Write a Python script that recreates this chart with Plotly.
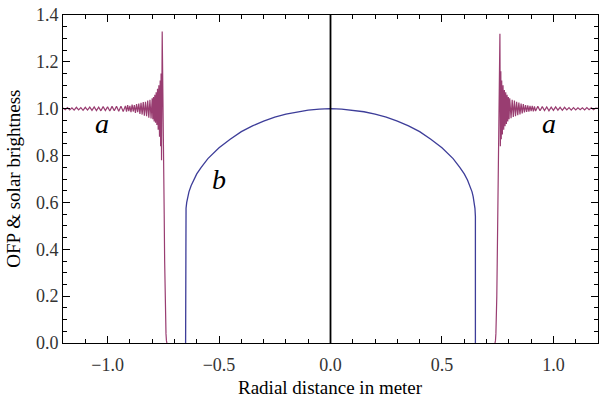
import plotly.graph_objects as go

# ---- curve a (occultation Fresnel profile), left edge ----
a_left_x = [
    -1.200, -1.190, -1.180, -1.170, -1.160, -1.150, -1.140, -1.130, -1.120, -1.110,
    -1.100, -1.090, -1.080, -1.070, -1.060, -1.050, -1.040, -1.030, -1.020, -1.010,
    -1.000, -0.990, -0.980, -0.970, -0.960, -0.950, -0.940, -0.930,
    -0.920, -0.915, -0.910, -0.905, -0.900, -0.895, -0.890, -0.885, -0.880, -0.875,
    -0.870, -0.865, -0.860, -0.855, -0.850, -0.845, -0.840, -0.835, -0.830, -0.825,
    -0.820, -0.815, -0.810, -0.805,
    -0.800, -0.797, -0.794, -0.791, -0.788, -0.785, -0.782, -0.779, -0.776, -0.773,
    -0.770, -0.767, -0.764, -0.762, -0.760, -0.758, -0.755,
    -0.753, -0.749, -0.746, -0.744, -0.742, -0.740, -0.738, -0.736, -0.734,
]
a_left_y = [
    1.003, 0.996, 1.005, 0.995, 1.004, 0.994, 1.006, 0.995, 1.005, 0.993,
    1.006, 0.994, 1.007, 0.993, 1.008, 0.992, 1.007, 0.991, 1.009, 0.992,
    1.008, 0.990, 1.010, 0.991, 1.010, 0.989, 1.011, 0.988,
    1.012, 0.988, 1.015, 0.990, 1.012, 0.985, 1.018, 0.988, 1.015, 0.982,
    1.020, 0.985, 1.022, 0.978, 1.025, 0.975, 1.028, 0.970, 1.030, 0.968,
    1.035, 0.962, 1.038, 0.958,
    1.045, 0.955, 1.050, 0.945, 1.060, 0.940, 1.070, 0.930, 1.085, 0.910,
    1.100, 0.880, 1.120, 0.840, 1.150, 0.780, 1.330,
    1.200, 0.850, 0.550, 0.350, 0.200, 0.100, 0.040, 0.010, 0.000,
]

# ---- curve a, right edge ----
a_right_x = [
    0.738, 0.740, 0.742, 0.744, 0.746, 0.748, 0.750, 0.753, 0.757, 0.760,
    0.762, 0.764, 0.766, 0.768, 0.771, 0.774, 0.777, 0.780, 0.783, 0.786,
    0.789, 0.792, 0.795, 0.798, 0.801, 0.804,
    0.810, 0.815, 0.820, 0.825, 0.830, 0.835, 0.840, 0.845, 0.850, 0.855,
    0.860, 0.865, 0.870, 0.875, 0.880, 0.885, 0.890, 0.895, 0.900, 0.905,
    0.910, 0.915, 0.920,
    0.930, 0.940, 0.950, 0.960, 0.970, 0.980, 0.990, 1.000, 1.010, 1.020,
    1.030, 1.040, 1.050, 1.060, 1.070, 1.080, 1.090, 1.100, 1.110, 1.120,
    1.130, 1.140, 1.150, 1.160, 1.170, 1.180, 1.190, 1.200,
]
a_right_y = [
    0.000, 0.010, 0.040, 0.100, 0.200, 0.350, 0.550, 0.850, 1.200, 1.320,
    0.840, 1.160, 0.870, 1.120, 0.890, 1.100, 0.910, 1.080, 0.925, 1.070,
    0.935, 1.060, 0.945, 1.050, 0.955, 1.045,
    0.960, 1.038, 0.965, 1.035, 0.968, 1.030, 0.972, 1.026, 0.976, 1.022,
    0.980, 1.020, 0.984, 1.016, 0.986, 1.014, 0.988, 1.012, 0.990, 1.012,
    0.989, 1.010, 0.990,
    1.010, 0.991, 1.009, 0.992, 1.008, 0.991, 1.007, 0.993, 1.008, 0.994,
    1.006, 0.993, 1.006, 0.995, 1.005, 0.994, 1.005, 0.995, 1.004, 0.996,
    1.004, 0.995, 1.005, 0.996, 1.004, 0.996, 1.003, 1.002,
]

# ---- curve b (limb-darkened solar brightness) ----
b_x = [
    -0.650, -0.650, -0.648, -0.645, -0.640, -0.635, -0.625, -0.615, -0.600, -0.580,
    -0.550, -0.500, -0.450, -0.400, -0.350, -0.300, -0.250, -0.200, -0.150, -0.100,
    -0.050, 0.000,
    0.050, 0.100, 0.150, 0.200, 0.250, 0.300, 0.350, 0.400, 0.450, 0.500,
    0.550, 0.580, 0.600, 0.615, 0.625, 0.635, 0.640, 0.645, 0.648, 0.650, 0.650,
]
b_y = [
    0.000, 0.540, 0.575, 0.600, 0.625, 0.645, 0.672, 0.695, 0.722, 0.750,
    0.787, 0.833, 0.870, 0.902, 0.927, 0.947, 0.964, 0.977, 0.987, 0.994,
    0.998, 1.000,
    0.998, 0.994, 0.987, 0.977, 0.964, 0.947, 0.927, 0.902, 0.870, 0.833,
    0.787, 0.750, 0.722, 0.695, 0.672, 0.645, 0.625, 0.600, 0.575, 0.540, 0.000,
]

center_line_x = [0.0, 0.0]
center_line_y = [0.0, 1.4]

x_ticks = [-1.0, -0.5, 0.0, 0.5, 1.0]
y_ticks = [0.0, 0.2, 0.4, 0.6, 0.8, 1.0, 1.2, 1.4]

# curve labels
label_text = ["a", "b", "a"]
label_x = [-1.025, -0.50, 0.98]
label_y = [0.935, 0.70, 0.935]

SERIF = "Liberation Serif, Times New Roman, serif"
A_COLOR = "#993D71"
B_COLOR = "#3D3D99"

fig = go.Figure()

fig.add_trace(go.Scatter(x=a_left_x, y=a_left_y, mode="lines",
                         line=dict(color=A_COLOR, width=1.2), hoverinfo="skip"))
fig.add_trace(go.Scatter(x=a_right_x, y=a_right_y, mode="lines",
                         line=dict(color=A_COLOR, width=1.2), hoverinfo="skip"))
fig.add_trace(go.Scatter(x=b_x, y=b_y, mode="lines",
                         line=dict(color=B_COLOR, width=1.3), hoverinfo="skip"))
fig.add_trace(go.Scatter(x=center_line_x, y=center_line_y, mode="lines",
                         line=dict(color="black", width=1.8), hoverinfo="skip"))

for t, lx, ly in zip(label_text, label_x, label_y):
    fig.add_annotation(x=lx, y=ly, text=f"<i>{t}</i>", showarrow=False,
                       font=dict(family=SERIF, size=28, color="black"))

# axis titles as paper annotations
fig.add_annotation(xref="paper", yref="paper", x=0.5, y=-0.137,
                   xanchor="center", yanchor="middle", showarrow=False,
                   text="Radial distance in meter",
                   font=dict(family=SERIF, size=19, color="black"))
fig.add_annotation(xref="paper", yref="paper", x=-0.094, y=0.5,
                   xanchor="center", yanchor="middle", showarrow=False, textangle=-90,
                   text="OFP &amp; solar brightness",
                   font=dict(family=SERIF, size=19, color="black"))

axis_common = dict(
    showline=True, linecolor="black", linewidth=1, mirror="allticks",
    ticks="inside", ticklen=7, tickcolor="black", tickwidth=1,
    showgrid=False, zeroline=False,
    tickfont=dict(family=SERIF, size=18, color="#333"),
)

fig.update_xaxes(range=[-1.2, 1.2], tickvals=x_ticks,
                 ticktext=[f"{v:.1f}".replace("-", "\u2212") for v in x_ticks],
                 ticklabelstandoff=5,
                 minor=dict(dtick=0.1, tick0=0, ticks="inside", ticklen=4, tickcolor="black"),
                 **axis_common)
fig.update_yaxes(range=[0, 1.4], tickvals=y_ticks,
                 ticktext=[f"{v:.1f}" for v in y_ticks],
                 minor=dict(dtick=0.05, tick0=0, ticks="inside", ticklen=4, tickcolor="black"),
                 **axis_common)

fig.update_layout(
    width=600, height=399,
    margin=dict(l=63, r=2, t=15, b=56),
    plot_bgcolor="white", paper_bgcolor="white",
    showlegend=False,
)

# the page body has a default 8px margin; drop it so the figure fills the window
fig.write_html("out.html", config={"displayModeBar": False},
               post_script="document.body.style.margin='0';")
